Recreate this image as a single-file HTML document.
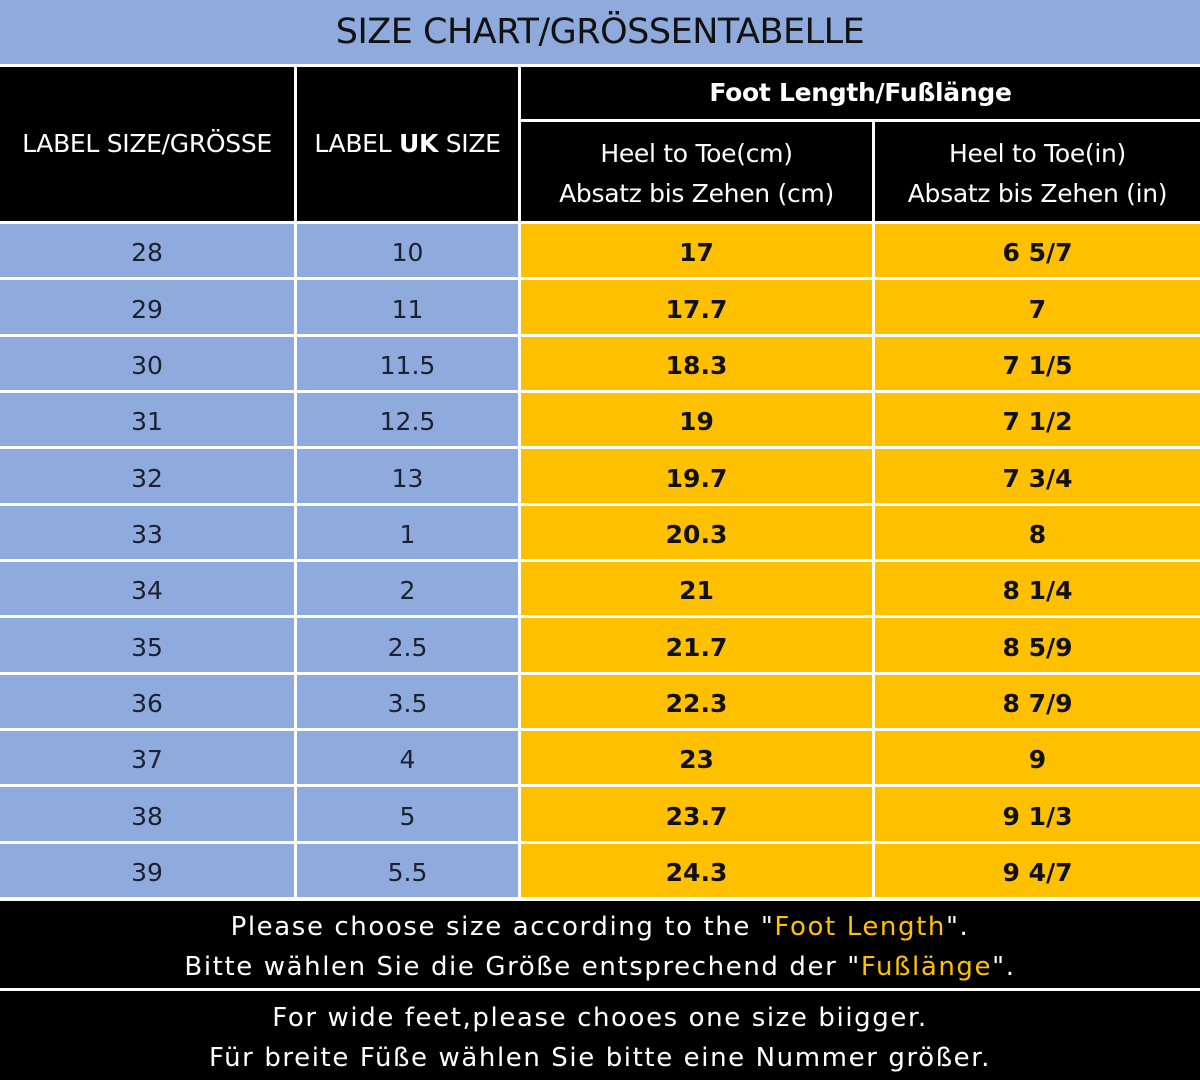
<!DOCTYPE html>
<html><head><meta charset="utf-8"><style>
*{margin:0;padding:0;box-sizing:border-box}
body{width:1200px;height:1080px;background:#fff;position:relative;overflow:hidden;font-family:"DejaVu Sans","Liberation Sans",sans-serif}
.c{position:absolute;display:flex;align-items:center;justify-content:center;text-align:center;flex-direction:column}
.k{background:#000;color:#fff}
.b{background:#8faadc;color:#1c2030;font-size:25px;padding-top:4px}
.y{background:#ffc000;color:#111;font-size:25px;font-weight:bold;padding-top:4px}
.h{font-size:25px;line-height:40px;letter-spacing:-0.3px}
.f{font-size:26px;line-height:40px;color:#fff;letter-spacing:1.6px;padding-top:4px}
.o{color:#ffc000}
</style></head><body>
<div class="c" style="left:0;top:0;width:1200px;height:64px;background:#8faadc;color:#111;font-size:35px;letter-spacing:-0.5px">SIZE CHART/GRÖSSENTABELLE</div>
<div class="c k h" style="left:0;top:67px;width:294px;height:154px">LABEL SIZE/GRÖSSE</div>
<div class="c k h" style="left:297px;top:67px;width:221px;height:154px"><span>LABEL <b>UK</b> SIZE</span></div>
<div class="c k h" style="left:521px;top:67px;width:679px;height:52px;font-weight:bold">Foot Length/Fußlänge</div>
<div class="c k h" style="left:521px;top:122px;width:351px;height:99px;padding-top:4px">Heel to Toe(cm)<br>Absatz bis Zehen (cm)</div>
<div class="c k h" style="left:875px;top:122px;width:325px;height:99px;padding-top:4px">Heel to Toe(in)<br>Absatz bis Zehen (in)</div>
<div id="rows"></div>
<div class="c k f" style="left:0;top:901px;width:1200px;height:87px"><div>Please choose size according to the "<span class="o">Foot Length</span>".</div><div>Bitte wählen Sie die Größe entsprechend der "<span class="o">Fußlänge</span>".</div></div>
<div class="c k f" style="left:0;top:991px;width:1200px;height:89px"><div>For wide feet,please chooes one size biigger.</div><div>Für breite Füße wählen Sie bitte eine Nummer größer.</div></div>
<script>
var d=[["28","10","17","6 5/7"],["29","11","17.7","7"],["30","11.5","18.3","7 1/5"],["31","12.5","19","7 1/2"],["32","13","19.7","7 3/4"],["33","1","20.3","8"],["34","2","21","8 1/4"],["35","2.5","21.7","8 5/9"],["36","3.5","22.3","8 7/9"],["37","4","23","9"],["38","5","23.7","9 1/3"],["39","5.5","24.3","9 4/7"]];
var h="";
for(var i=0;i<12;i++){var t=Math.round(224+i*56.33),bt=Math.round(224+(i+1)*56.33)-3,hh=bt-t;
h+='<div class="c b" style="left:0;top:'+t+'px;width:294px;height:'+hh+'px">'+d[i][0]+'</div>';
h+='<div class="c b" style="left:297px;top:'+t+'px;width:221px;height:'+hh+'px">'+d[i][1]+'</div>';
h+='<div class="c y" style="left:521px;top:'+t+'px;width:351px;height:'+hh+'px">'+d[i][2]+'</div>';
h+='<div class="c y" style="left:875px;top:'+t+'px;width:325px;height:'+hh+'px">'+d[i][3]+'</div>';}
document.getElementById("rows").outerHTML=h;
</script>
</body></html>
